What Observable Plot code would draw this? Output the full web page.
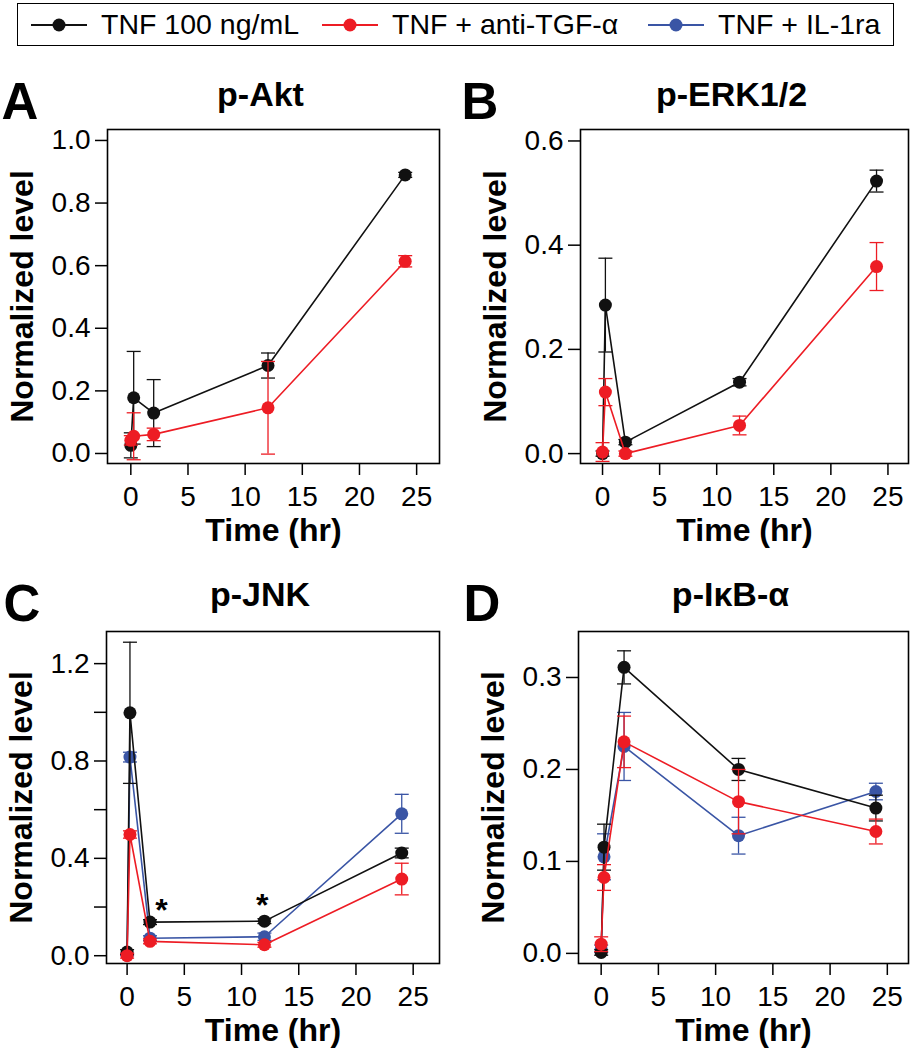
<!DOCTYPE html>
<html>
<head>
<meta charset="utf-8">
<script src="https://cdn.jsdelivr.net/npm/d3@7"></script>
<script src="https://cdn.jsdelivr.net/npm/@observablehq/plot@0.6"></script>
<style>
  body { margin: 0; background: #fff; font-family: "Liberation Sans", Arial, sans-serif; }
  #root { position: relative; width: 913px; height: 1050px; overflow: hidden; background: #fff; }
  .panel { position: absolute; }
  #legend { position: absolute; left: 17px; top: 3px; width: 875px; height: 41px; border: 1.5px solid #000; box-sizing: content-box; }
  .item { position: absolute; top: 0; height: 41px; display: flex; align-items: center; font-size: 28.5px; color: #000; white-space: nowrap; }
  .item svg { display: block; margin-right: 14px; }
</style>
</head>
<body>
<div id="root">
  <div id="legend"></div>
  <div class="panel" id="pA" style="left:0px;top:60px;width:456px;height:500px"></div>
  <div class="panel" id="pB" style="left:456px;top:60px;width:457px;height:500px"></div>
  <div class="panel" id="pC" style="left:0px;top:560px;width:456px;height:500px"></div>
  <div class="panel" id="pD" style="left:456px;top:560px;width:457px;height:500px"></div>
</div>
<script>
// ---------- data ----------
const times = [0, 0.25, 2, 12, 24];
const seriesNames = ["TNF 100 ng/mL", "TNF + anti-TGF-\u03b1", "TNF + IL-1ra"];
const seriesColors = ["#111111", "#ed1c24", "#3a55a5"];
const drawOrder = ["TNF + IL-1ra", "TNF 100 ng/mL", "TNF + anti-TGF-\u03b1"];
const xTicks = [0, 5, 10, 15, 20, 25];

// A: p-Akt
const aktTNF = [0.026, 0.178, 0.129, 0.281, 0.890];
const aktTNFErr = [0.040, 0.148, 0.107, 0.040, 0.008];
const aktAnti = [0.042, 0.055, 0.061, 0.146, 0.614];
const aktAntiErr = [0.015, 0.075, 0.020, 0.148, 0.018];
const aktTicks = [0, 0.2, 0.4, 0.6, 0.8, 1.0];

// B: p-ERK1/2
const erkTNF = [0.000, 0.285, 0.022, 0.137, 0.523];
const erkTNFErr = [0.005, 0.090, 0.005, 0.007, 0.021];
const erkAnti = [0.003, 0.118, 0.000, 0.054, 0.359];
const erkAntiErr = [0.018, 0.026, 0.005, 0.018, 0.046];
const erkTicks = [0, 0.2, 0.4, 0.6];

// C: p-JNK
const jnkTNF = [0.015, 0.998, 0.138, 0.142, 0.422];
const jnkTNFErr = [0.010, 0.290, 0.010, 0.010, 0.020];
const jnkAnti = [0.000, 0.498, 0.059, 0.045, 0.315];
const jnkAntiErr = [0.010, 0.015, 0.010, 0.010, 0.065];
const jnkIL1ra = [0.005, 0.816, 0.072, 0.078, 0.583];
const jnkIL1raErr = [0.005, 0.020, 0.010, 0.015, 0.080];
const jnkTicks = [0, 0.2, 0.4, 0.6, 0.8, 1.0, 1.2];
const jnkTickLabels = [0, 0.4, 0.8, 1.2];
const starT = [3.0, 11.8];
const starV = [0.212, 0.232];

// D: p-IkB-alpha
const ikbTNF = [0.001, 0.1155, 0.311, 0.200, 0.158];
const ikbTNFErr = [0.003, 0.025, 0.018, 0.012, 0.014];
const ikbAnti = [0.010, 0.0825, 0.230, 0.165, 0.1325];
const ikbAntiErr = [0.008, 0.014, 0.028, 0.035, 0.0135];
const ikbIL1ra = [0.005, 0.105, 0.225, 0.128, 0.176];
const ikbIL1raErr = [0.004, 0.025, 0.037, 0.020, 0.009];
const ikbTicks = [0, 0.1, 0.2, 0.3];

// ---------- helpers ----------
const rows = (vals, errs, series) => times.map((t, i) => ({t, v: vals[i], e: errs[i], series}));
const capSymbol = {
  draw(ctx, size) {
    const w = Math.sqrt(size / Math.PI);
    ctx.moveTo(-w, 0);
    ctx.lineTo(w, 0);
  }
};
const FONT = "'Liberation Sans', Arial, Helvetica, sans-serif";

function panel(cfg) {
  const marks = [];
  for (const s of drawOrder) {
    const d = cfg.data.filter(r => r.series === s);
    if (!d.length) continue;
    marks.push(
      Plot.ruleX(d, {x: "t", y1: r => r.v - r.e, y2: r => r.v + r.e, stroke: "series", strokeWidth: 1.3}),
      Plot.dot(d, {x: "t", y: r => r.v + r.e, symbol: capSymbol, r: 7, stroke: "series", fill: "none", strokeWidth: 1.3}),
      Plot.dot(d, {x: "t", y: r => r.v - r.e, symbol: capSymbol, r: 7, stroke: "series", fill: "none", strokeWidth: 1.3}),
      Plot.line(d, {x: "t", y: "v", stroke: "series", strokeWidth: 1.6}),
      Plot.dot(d, {x: "t", y: "v", fill: "series", r: 6.5})
    );
  }
  const fmt = cfg.labelTicks
    ? (v => cfg.labelTicks.some(l => Math.abs(l - v) < 1e-9) ? v.toFixed(1) : "")
    : (v => v.toFixed(1));
  const plot = Plot.plot({
    width: cfg.width,
    height: 500,
    marginLeft: cfg.ml,
    marginRight: cfg.mr,
    marginTop: cfg.mt,
    marginBottom: 500 - cfg.mt - cfg.innerH,
    x: {domain: cfg.xDomain},
    y: {domain: cfg.yDomain},
    color: {domain: seriesNames, range: seriesColors},
    style: {fontFamily: FONT, color: "#000", background: "transparent", overflow: "visible"},
    marks: [
      Plot.axisX({ticks: xTicks, tickSize: 12, tickPadding: 11, fontSize: 28, label: null, strokeWidth: 1.5, tickFormat: d => String(d)}),
      Plot.axisY({ticks: cfg.yTicks, tickSize: 12, tickPadding: 5, fontSize: 28, label: null, strokeWidth: 1.5, tickFormat: fmt}),
      ...marks,
      Plot.frame({stroke: "#000", strokeWidth: 1.6}),
      Plot.text(["Normalized level"], {frameAnchor: "left", text: d => d, rotate: -90, dx: -75, textAnchor: "middle", lineAnchor: "bottom", fontSize: 32, fontWeight: "bold"}),
      Plot.text(["Time (hr)"], {frameAnchor: "bottom", text: d => d, dy: 77, textAnchor: "middle", lineAnchor: "bottom", fontSize: 32, fontWeight: "bold"}),
      Plot.text([cfg.title], {frameAnchor: "top", text: d => d, dx: -13, dy: cfg.titleDy, textAnchor: "middle", lineAnchor: "bottom", fontSize: 34, fontWeight: "bold"}),
      Plot.text([cfg.letter], {frameAnchor: "top-left", text: d => d, dx: cfg.letterDx, dy: -11, lineAnchor: "bottom", textAnchor: "start", fontSize: 51, fontWeight: "bold"}),
      ...(cfg.extra || [])
    ]
  });
  document.getElementById(cfg.el).appendChild(plot);
}

const dataA = [...rows(aktTNF, aktTNFErr, seriesNames[0]), ...rows(aktAnti, aktAntiErr, seriesNames[1])];
const dataB = [...rows(erkTNF, erkTNFErr, seriesNames[0]), ...rows(erkAnti, erkAntiErr, seriesNames[1])];
const dataC = [...rows(jnkTNF, jnkTNFErr, seriesNames[0]), ...rows(jnkAnti, jnkAntiErr, seriesNames[1]), ...rows(jnkIL1ra, jnkIL1raErr, seriesNames[2])];
const dataD = [...rows(ikbTNF, ikbTNFErr, seriesNames[0]), ...rows(ikbAnti, ikbAntiErr, seriesNames[1]), ...rows(ikbIL1ra, ikbIL1raErr, seriesNames[2])];
const starData = starT.map((t, i) => ({t, v: starV[i]}));

panel({el: "pA", width: 456, ml: 107, mr: 17, mt: 69, innerH: 334, xDomain: [-2.04, 27.0], yDomain: [-0.032, 1.035],
  yTicks: aktTicks, data: dataA, title: "p-Akt", titleDy: -24, letter: "A", letterDx: -106});
panel({el: "pB", width: 457, ml: 124, mr: 5, mt: 69, innerH: 334, xDomain: [-1.93, 26.8], yDomain: [-0.019, 0.622],
  yTicks: erkTicks, data: dataB, title: "p-ERK1/2", titleDy: -24, letter: "B", letterDx: -119});
panel({el: "pC", width: 456, ml: 106, mr: 17, mt: 71, innerH: 332, xDomain: [-1.8, 27.3], yDomain: [-0.032, 1.332],
  yTicks: jnkTicks, labelTicks: jnkTickLabels, data: dataC, title: "p-JNK", titleDy: -26, letter: "C", letterDx: -103,
  extra: [Plot.text(starData, {x: "t", y: "v", text: () => "*", dy: 7, fontSize: 32, fontWeight: "bold", lineAnchor: "middle"})]});
panel({el: "pD", width: 457, ml: 122, mr: 5, mt: 71, innerH: 332, xDomain: [-1.98, 26.85], yDomain: [-0.011, 0.350],
  yTicks: ikbTicks, data: dataD, title: "p-I\u03baB-\u03b1", titleDy: -26, letter: "D", letterDx: -115});

// ---------- legend ----------
const legend = document.getElementById("legend");
const legendLeft = [13, 304, 630]; // swatch left edges inside the legend box
seriesNames.forEach((name, i) => {
  const item = document.createElement("div");
  item.className = "item";
  item.style.left = legendLeft[i] + "px";
  item.innerHTML = `<svg width="56" height="20"><line x1="0" y1="10" x2="56" y2="10" stroke="${seriesColors[i]}" stroke-width="2"/><circle cx="28" cy="10" r="6.5" fill="${seriesColors[i]}"/></svg><span>${name}</span>`;
  legend.appendChild(item);
});
</script>
</body>
</html>
